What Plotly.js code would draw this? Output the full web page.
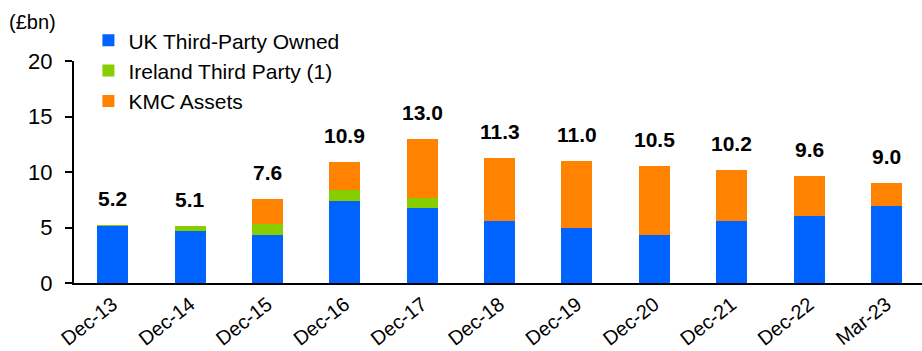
<!DOCTYPE html>
<html>
<head>
<meta charset="utf-8">
<script src="https://cdn.plot.ly/plotly-3.0.1.min.js"></script>
<style>
  html, body { margin: 0; padding: 0; background: #fff; }
  #chart { width: 922px; height: 351px; }
</style>
</head>
<body>
<div id="chart"></div>
<script>
// Period labels along the x axis
const periods = ['Dec-13', 'Dec-14', 'Dec-15', 'Dec-16', 'Dec-17', 'Dec-18',
                 'Dec-19', 'Dec-20', 'Dec-21', 'Dec-22', 'Mar-23'];

// Assets under management by segment (£bn)
const ukThirdParty      = [5.1, 4.7, 4.3, 7.4, 6.8, 5.6, 5.0, 4.3, 5.6, 6.0, 6.9];
const irelandThirdParty = [0.1, 0.4, 1.0, 1.0, 0.9, 0, 0, 0, 0, 0, 0];
const kmcAssets         = [0, 0, 2.3, 2.5, 5.3, 5.7, 6.0, 6.2, 4.6, 3.6, 2.1];

// Stated totals shown above each bar
const totals = [5.2, 5.1, 7.6, 10.9, 13.0, 11.3, 11.0, 10.5, 10.2, 9.6, 9.0];

const seriesNames = ['UK Third-Party Owned', 'Ireland Third Party (1)', 'KMC Assets'];
const seriesColors = ['#0062FF', '#86CE00', '#FF8200'];
const seriesValues = [ukThirdParty, irelandThirdParty, kmcAssets];

const FONT = 'Arial, Liberation Sans, sans-serif';

const traces = seriesValues.map((vals, i) => ({
  type: 'bar',
  name: seriesNames[i],
  legendgroup: 'g' + i,
  x: periods,
  y: vals,
  marker: { color: seriesColors[i], line: { width: 0 } },
  hoverinfo: 'x+y+name'
}));

// Bold total above each stacked bar
const totalLabels = periods.map((p, i) => ({
  x: p,
  y: totals[i],
  xref: 'x',
  yref: 'y',
  text: '<b>' + totals[i].toFixed(1) + '</b>',
  showarrow: false,
  yanchor: 'bottom',
  yshift: 13,
  font: { family: FONT, size: 21, color: '#000' }
}));

// Unit caption above the value axis
const unitLabel = {
  xref: 'paper', yref: 'paper',
  x: -0.079, y: 1.176,
  xanchor: 'left', yanchor: 'middle',
  text: '(£bn)',
  showarrow: false,
  font: { family: FONT, size: 20, color: '#000' }
};

const layout = {
  width: 922,
  height: 351,
  margin: { l: 74, r: 0, t: 61, b: 68 },
  paper_bgcolor: '#fff',
  plot_bgcolor: '#fff',
  barmode: 'stack',
  bargap: 0.6,
  font: { family: FONT, color: '#000' },
  showlegend: true,
  legend: {
    x: 0.017, y: 1.184,
    xanchor: 'left', yanchor: 'top',
    traceorder: 'grouped',
    tracegroupgap: 0,
    font: { family: FONT, size: 21, color: '#000' },
    bgcolor: 'rgba(0,0,0,0)'
  },
  xaxis: {
    type: 'category',
    range: [-0.5, 10.46],
    showline: true,
    linecolor: '#000',
    linewidth: 2,
    ticks: '',
    tickangle: -38,
    ticklabelstandoff: 0,
    tickfont: { family: FONT, size: 20, color: '#000' },
    showgrid: false,
    zeroline: false
  },
  yaxis: {
    range: [0, 20],
    tickvals: [0, 5, 10, 15, 20],
    showline: true,
    linecolor: '#000',
    linewidth: 2,
    ticks: 'outside',
    ticklen: 7,
    tickwidth: 2,
    tickcolor: '#000',
    ticklabelstandoff: 8,
    tickfont: { family: FONT, size: 22, color: '#000' },
    showgrid: false,
    zeroline: false
  },
  annotations: totalLabels.concat([unitLabel])
};

Plotly.newPlot('chart', traces, layout, { displayModeBar: false, staticPlot: true });
</script>
</body>
</html>
